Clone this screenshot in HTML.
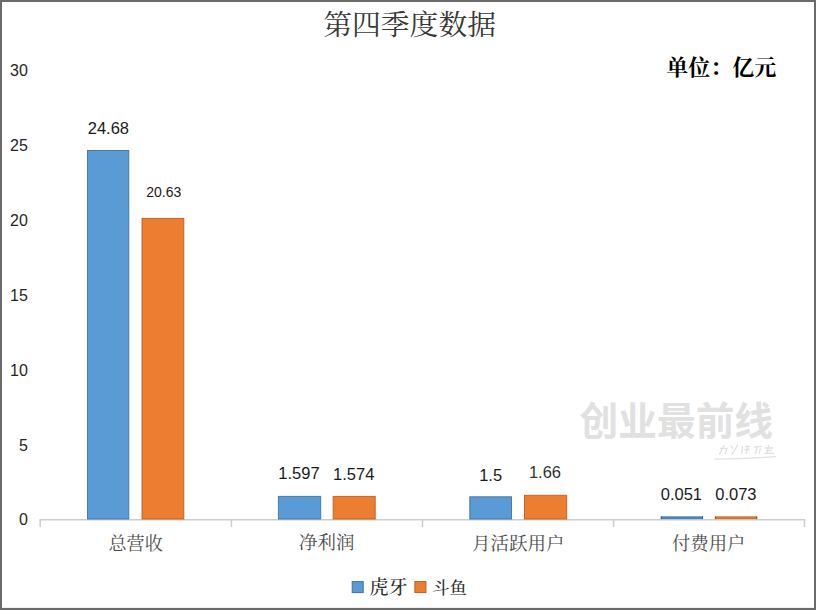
<!DOCTYPE html>
<html><head><meta charset="utf-8"><title>chart</title>
<style>html,body{margin:0;padding:0;background:#fff;}body{width:816px;height:610px;overflow:hidden;font-family:"Liberation Sans",sans-serif;}</style>
</head><body><svg width="816" height="610" viewBox="0 0 816 610" style="display:block" role="img" aria-label="第四季度数据 单位：亿元"><title>第四季度数据</title><desc>单位：亿元。总营收：虎牙 24.68，斗鱼 20.63；净利润：虎牙 1.597，斗鱼 1.574；月活跃用户：虎牙 1.5，斗鱼 1.66；付费用户：虎牙 0.051，斗鱼 0.073。创业最前线</desc><rect x="0" y="0" width="816" height="610" fill="#6b6b6b"/><rect x="2" y="2" width="812" height="605.9" fill="#ffffff"/><text x="323.2" y="34.5" font-size="28.8" fill="#383838" font-family="'Liberation Serif','Noto Serif CJK SC',serif">第四季度数据</text><text x="666.2" y="75.3" font-size="22" font-weight="bold" fill="#000000" font-family="'Liberation Serif','Noto Serif CJK SC',serif">单位：亿元</text><text x="579.6" y="435.3" font-size="38.7" font-weight="bold" fill="#e1e1e1" font-family="'Liberation Sans','Noto Sans CJK SC',sans-serif">创业最前线</text><path d="M714.5 459.2 Q746 458.8 776 456.6" stroke="#e2e2e2" stroke-width="1.3" fill="none"/><g fill="none" stroke="#e0e0e0" stroke-width="1.3" stroke-linecap="round"><path d="M724 445.5L719.5 454M720.5 448.3H727L725.3 453.8"/><path d="M731 446L732.5 448.5M737.5 445.3L735.5 448.8M735 449.5L732 454"/><path d="M742.5 446.5L741.8 453M745.5 446.3H749.5M745 449.5H749M747.6 446.5L746.5 453.3"/><path d="M754 447.2L761.5 446.4M757.3 447.4L755.3 453.2M760.3 449L759.3 453.2"/><path d="M768.6 445.3L767.3 453M765.5 448H772.5M766.5 450.6H771.3M765 453.4H773.3"/></g><g stroke="#cdcdcd" stroke-width="1.5" fill="none"><path d="M39.5 519.8H805.2"/><path d="M40.2 519.8V527"/><path d="M231.4 519.8V527"/><path d="M422.5 519.8V527"/><path d="M613.6 519.8V527"/><path d="M804.5 519.8V527"/></g><rect x="87.5" y="150.5" width="41.3" height="368.5" fill="#5b9bd5" stroke="#3f72a3" stroke-opacity="0.9" stroke-width="1"/><rect x="142.0" y="218.4" width="41.8" height="300.6" fill="#ed7d31" stroke="#b95f22" stroke-opacity="0.9" stroke-width="1"/><rect x="278.4" y="496.4" width="42.3" height="22.6" fill="#5b9bd5" stroke="#3f72a3" stroke-opacity="0.9" stroke-width="1"/><rect x="333.2" y="496.4" width="42.0" height="22.6" fill="#ed7d31" stroke="#b95f22" stroke-opacity="0.9" stroke-width="1"/><rect x="469.8" y="496.8" width="41.7" height="22.2" fill="#5b9bd5" stroke="#3f72a3" stroke-opacity="0.9" stroke-width="1"/><rect x="524.5" y="495.3" width="42.2" height="23.7" fill="#ed7d31" stroke="#b95f22" stroke-opacity="0.9" stroke-width="1"/><rect x="660.8" y="516.3" width="42.2" height="2.8" fill="#4a82ba"/><rect x="660.8" y="516.3" width="1" height="2.8" fill="#35618d"/><rect x="702" y="516.3" width="1" height="2.8" fill="#35618d"/><rect x="714.9" y="516.3" width="42.3" height="2.8" fill="#d9742e"/><rect x="714.9" y="516.3" width="1" height="2.8" fill="#9c5526"/><rect x="756.2" y="516.3" width="1" height="2.8" fill="#9c5526"/><g font-family="'Liberation Sans',sans-serif" font-size="16" fill="#262626" text-anchor="end"><text x="27.8" y="76.2">30</text><text x="27.8" y="151.1">25</text><text x="27.8" y="225.9">20</text><text x="27.8" y="300.8">15</text><text x="27.8" y="375.6">10</text><text x="27.8" y="450.5">5</text><text x="27.8" y="525.3">0</text></g><g font-family="'Liberation Sans',sans-serif" font-size="16.5" fill="#1a1a1a" text-anchor="middle"><text x="108.4" y="133.7">24.68</text><text x="163.8" y="197.2" font-size="14">20.63</text><text x="299.0" y="478.9">1.597</text><text x="353.7" y="479.6">1.574</text><text x="490.6" y="480.7">1.5</text><text x="545.0" y="478.2" fill="#333333">1.66</text><text x="681.4" y="499.6">0.051</text><text x="735.9" y="499.6">0.073</text></g><g font-family="'Liberation Serif','Noto Serif CJK SC',serif" fill="#4b4b4b"><text x="108.5" y="549.9" font-size="18.1">总营收</text><text x="298.9" y="549.4" font-size="18.5">净利润</text><text x="471.9" y="549.8" font-size="18.5">月活跃用户</text><text x="671.9" y="549.8" font-size="18.4">付费用户</text></g><rect x="352.2" y="581.6" width="11" height="11" fill="#5b9bd5" stroke="#3f72a3" stroke-width="1"/><text x="369.4" y="593.8" font-size="19" font-weight="500" fill="#303030" font-family="'Liberation Serif','Noto Serif CJK SC',serif">虎牙</text><rect x="414.9" y="581.6" width="11" height="11" fill="#ed7d31" stroke="#b95f22" stroke-width="1"/><text x="432.2" y="594" font-size="17.4" font-weight="500" fill="#303030" font-family="'Liberation Serif','Noto Serif CJK SC',serif">斗鱼</text></svg></body></html>
